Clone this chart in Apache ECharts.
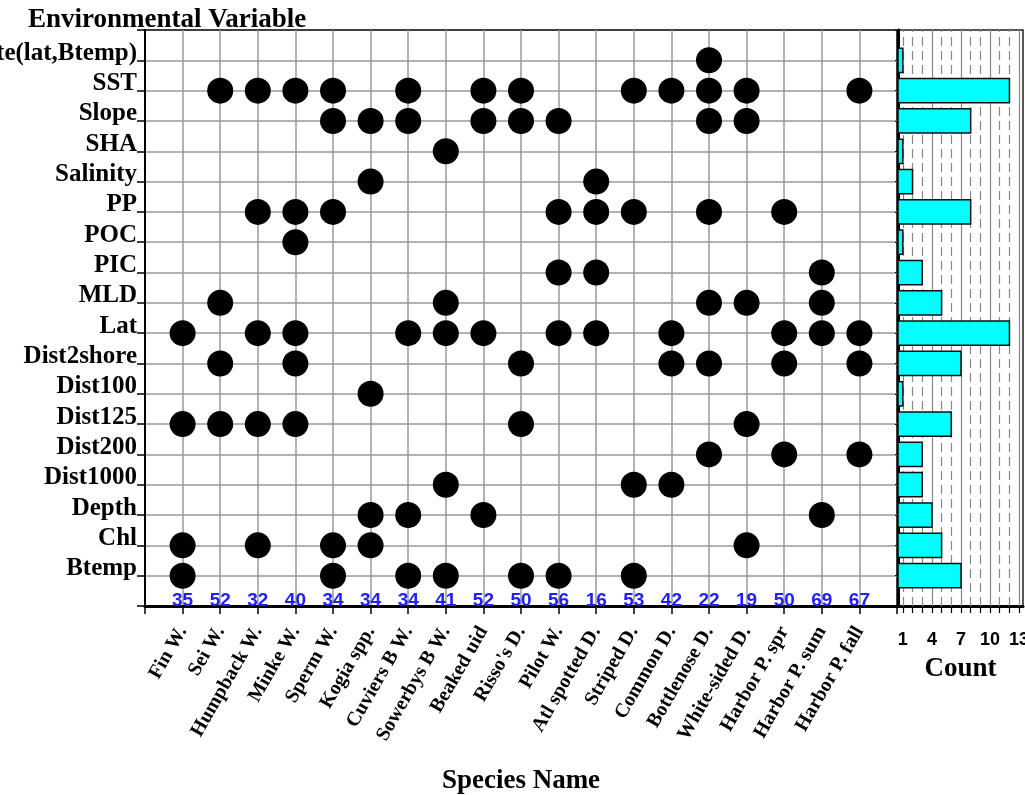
<!DOCTYPE html>
<html>
<head>
<meta charset="utf-8">
<title>Environmental variables selected per species</title>
<script src="https://cdn.jsdelivr.net/npm/echarts@6/dist/echarts.min.js"></script>
<style>
  html, body { margin: 0; padding: 0; background: #fff; }
  #chart { width: 1025px; height: 795px; }
</style>
</head>
<body>
<div id="chart"></div>
<script>
const species = ['Fin W.', 'Sei W.', 'Humpback W.', 'Minke W.', 'Sperm W.', 'Kogia spp.', 'Cuviers B W.',
  'Sowerbys B W.', 'Beaked uid', "Risso's D.", 'Pilot W.', 'Atl spotted D.', 'Striped D.', 'Common D.',
  'Bottlenose D.', 'White-sided D.', 'Harbor P. spr', 'Harbor P. sum', 'Harbor P. fall']
const sampleSizes = [35, 52, 32, 40, 34, 34, 34, 41, 52, 50, 56, 16, 53, 42, 22, 19, 50, 69, 67]

// from bottom to top
const variables = ['Btemp', 'Chl', 'Depth', 'Dist1000', 'Dist200', 'Dist125', 'Dist100', 'Dist2shore', 'Lat',
  'MLD', 'PIC', 'POC', 'PP', 'Salinity', 'SHA', 'Slope', 'SST', 'te(lat,Btemp)']

// species numbers (1 = Fin W.) that keep each variable, same order as variables
const selected = [
  [1, 5, 7, 8, 10, 11, 13],                     // Btemp
  [1, 3, 5, 6, 16],                             // Chl
  [6, 7, 9, 18],                                // Depth
  [8, 13, 14],                                  // Dist1000
  [15, 17, 19],                                 // Dist200
  [1, 2, 3, 4, 10, 16],                         // Dist125
  [6],                                          // Dist100
  [2, 4, 10, 14, 15, 17, 19],                   // Dist2shore
  [1, 3, 4, 7, 8, 9, 11, 12, 14, 17, 18, 19],   // Lat
  [2, 8, 15, 16, 18],                           // MLD
  [11, 12, 18],                                 // PIC
  [4],                                          // POC
  [3, 4, 5, 11, 12, 13, 15, 17],                // PP
  [6, 12],                                      // Salinity
  [8],                                          // SHA
  [5, 6, 7, 9, 10, 11, 15, 16],                 // Slope
  [2, 3, 4, 5, 7, 9, 10, 13, 14, 15, 16, 19],   // SST
  [15]                                          // te(lat,Btemp)
]
const counts = [7, 5, 4, 3, 3, 6, 1, 7, 12, 5, 3, 1, 8, 2, 1, 8, 12, 1]

const countTicks = [1, 2, 3, 4, 5, 6, 7, 8, 9, 10, 11, 12, 13]
const countLabels = [1, 4, 7, 10, 13]
const countSolid = [4, 7, 10, 13]
const countDashed = [1, 2, 3, 5, 6, 8, 9, 11, 12]
const countMin = 0.5

const serifBold = { fontFamily: 'Liberation Serif', fontWeight: 'bold', color: '#000' }

const dots = []
selected.forEach((cols, r) => {
  cols.forEach(c => dots.push([c, r + 1]))
})

const chart = echarts.init(document.getElementById('chart'))

const option = {
  animation: false,
  title: {
    text: 'Environmental Variable',
    left: 28,
    top: 7,
    padding: 0,
    textStyle: { ...serifBold, fontSize: 27 }
  },
  grid: [
    { left: 145, right: 128, top: 30, bottom: 189, outerBoundsMode: 'none',
      show: true, borderColor: '#000', borderWidth: 1.5 },
    { left: 898, right: 2, top: 30, bottom: 189, outerBoundsMode: 'none',
      show: true, borderColor: '#222', borderWidth: 1.5 }
  ],
  xAxis: [
    {
      gridIndex: 0,
      type: 'value',
      min: 0,
      max: 20,
      interval: 1,
      name: 'Species Name',
      nameLocation: 'middle',
      nameGap: 162,
      nameTextStyle: { ...serifBold, fontSize: 27 },
      axisLine: { lineStyle: { color: '#000', width: 3 } },
      axisTick: { length: 8, lineStyle: { color: '#000', width: 1.5 } },
      axisLabel: {
        rotate: 60,
        margin: 22,
        ...serifBold,
        fontSize: 20,
        formatter: v => species[v - 1] || ''
      },
      splitLine: { show: true, showMinLine: false, showMaxLine: false, lineStyle: { color: '#999', width: 1.5 } }
    },
    {
      gridIndex: 1,
      type: 'value',
      min: countMin,
      max: 13.4,
      name: 'Count',
      nameLocation: 'middle',
      nameGap: 50,
      nameTextStyle: { ...serifBold, fontSize: 27 },
      axisLine: { lineStyle: { color: '#000', width: 3 } },
      axisTick: { customValues: countTicks, length: 7, lineStyle: { color: '#000', width: 1.2 } },
      axisLabel: {
        customValues: countLabels,
        margin: 25,
        fontFamily: 'Liberation Sans',
        fontWeight: 'bold',
        fontSize: 18,
        color: '#000'
      },
      splitLine: { show: false }
    }
  ],
  yAxis: [
    {
      gridIndex: 0,
      type: 'value',
      min: 0,
      max: 19,
      interval: 1,
      axisLine: { lineStyle: { color: '#000', width: 2 } },
      axisTick: { length: 8, lineStyle: { color: '#000', width: 1.5 } },
      axisLabel: {
        margin: 8,
        ...serifBold,
        fontSize: 25,
        verticalAlign: 'bottom',
        lineHeight: 14,
        formatter: v => variables[v - 1] || ''
      },
      splitLine: { show: true, showMinLine: false, showMaxLine: false, lineStyle: { color: '#999', width: 1.5 } }
    },
    {
      gridIndex: 1,
      type: 'value',
      min: 0,
      max: 19,
      interval: 1,
      axisLine: { lineStyle: { color: '#000', width: 3 } },
      axisTick: { length: 3, lineStyle: { color: '#000' } },
      axisLabel: { show: false },
      splitLine: { show: false }
    }
  ],
  series: [
    {
      name: 'selected',
      type: 'scatter',
      xAxisIndex: 0,
      yAxisIndex: 0,
      symbolSize: 26,
      itemStyle: { color: '#000', opacity: 1 },
      data: dots
    },
    {
      name: 'sample size',
      type: 'scatter',
      xAxisIndex: 0,
      yAxisIndex: 0,
      symbolSize: 0,
      itemStyle: { opacity: 1 },
      data: sampleSizes.map((n, i) => [i + 1, 0, n]),
      label: {
        show: true,
        position: 'top',
        distance: -4,
        formatter: p => p.value[2],
        fontFamily: 'Liberation Sans',
        fontWeight: 'bold',
        fontSize: 19,
        color: '#2020ff'
      }
    },
    {
      name: 'count',
      type: 'custom',
      xAxisIndex: 1,
      yAxisIndex: 1,
      z: 3,
      data: counts.map((c, i) => [c, i + 1]),
      renderItem: (params, api) => {
        const start = api.coord([countMin, api.value(1)])
        const end = api.coord([api.value(0), api.value(1)])
        const h = api.size([0, 1])[1] * 0.8
        return {
          type: 'rect',
          shape: { x: start[0], y: start[1] - h / 2, width: end[0] - start[0], height: h },
          style: { fill: '#00ffff', stroke: '#111', lineWidth: 1.5 }
        }
      },
      markLine: {
        silent: true,
        symbol: 'none',
        z: 1,
        label: { show: false },
        lineStyle: { color: '#888', width: 1.2 },
        data: [
          ...countSolid.map(v => ({ xAxis: v, lineStyle: { type: 'solid' } })),
          ...countDashed.map(v => ({ xAxis: v, lineStyle: { type: [9, 5] } }))
        ]
      }
    }
  ]
}

chart.setOption(option)
</script>
</body>
</html>
